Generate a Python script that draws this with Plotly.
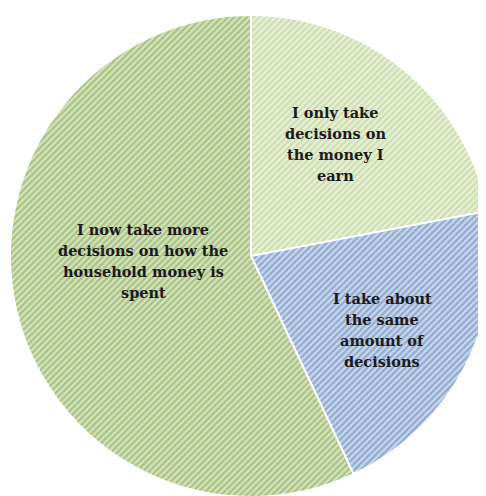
import plotly.graph_objects as go

labels = [
    "I only take<br>decisions on<br>the money I<br>earn",
    "I take about<br>the same<br>amount of<br>decisions",
    "I now take more<br>decisions on how the<br>household money is<br>spent",
]
values = [22, 21, 57]

bg_colors = ["#e8f0d9", "#c8d7ec", "#d5e3bd"]
fg_colors = ["#b2cb86", "#5a7db3", "#7f9f4c"]

# label block centres in paper coordinates (layout), and line step in px
label_x = [0.673, 0.770, 0.278]
label_y = [0.726, 0.351, 0.490]
line_step_px = 21
fig_h = 496

fig = go.Figure(
    go.Pie(
        labels=labels,
        values=values,
        sort=False,
        direction="clockwise",
        rotation=0,
        textinfo="none",
        hoverinfo="label+percent",
        marker=dict(
            colors=bg_colors,
            line=dict(color="white", width=2),
            pattern=dict(
                shape="/",
                fgcolor=fg_colors,
                bgcolor=bg_colors,
                size=4.5,
                solidity=0.5,
                fillmode="overlay",
            ),
        ),
        domain=dict(x=[2 / 486, 484 / 486], y=[7 / 496, 489 / 496]),
        showlegend=False,
    )
)

for t, x, y in zip(labels, label_x, label_y):
    lines = t.split("<br>")
    n = len(lines)
    for i, ln in enumerate(lines):
        dy = ((n - 1) / 2 - i) * line_step_px / fig_h
        fig.add_annotation(
            text=ln, x=x, y=y + dy, xref="paper", yref="paper",
            showarrow=False, xanchor="center", yanchor="middle",
            font=dict(family="DejaVu Serif", size=14.5, color="#1a1a1a", weight="bold"),
            align="center",
        )

fig.update_layout(
    width=486, height=496,
    margin=dict(l=0, r=0, t=0, b=0),
    paper_bgcolor="white",
    plot_bgcolor="white",
)

fig.write_html("out.html")
